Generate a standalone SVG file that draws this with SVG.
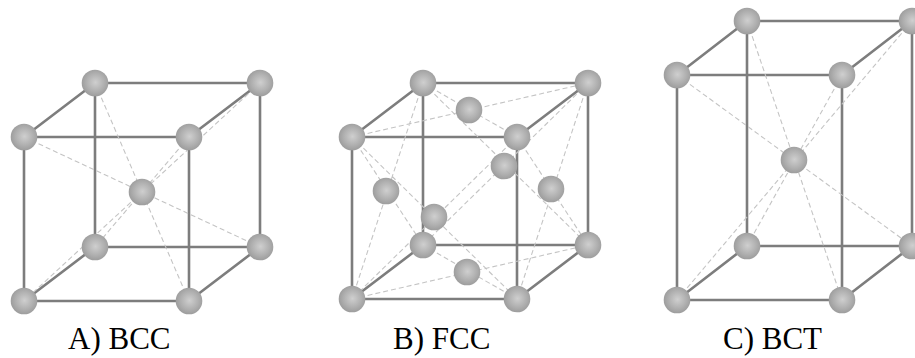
<svg xmlns="http://www.w3.org/2000/svg" width="915" height="358" viewBox="0 0 915 358">
<defs>
<radialGradient id="ball" cx="0.52" cy="0.48" r="0.55">
<stop offset="0" stop-color="#cfcfcf"/>
<stop offset="0.6" stop-color="#b0b0b0"/>
<stop offset="1" stop-color="#9a9a9a"/>
</radialGradient>
<circle id="atom" r="13.3" fill="url(#ball)"/>
</defs>
<style>
.edge{stroke:#7d7d7d;stroke-width:2.6;fill:none;stroke-linecap:round}
.diag{stroke:#c4c4c4;stroke-width:1.1;stroke-dasharray:5 3;fill:none}
.lbl{font-family:"Liberation Serif","Times New Roman",serif;font-size:31px;fill:#000}
</style>
<rect width="915" height="358" fill="#fff"/>

<g id="bcc">
<g class="connectors">
<path class="edge" d="M95,83H260V247H95ZM24,137H189V301H24ZM24,137L95,83M189,137L260,83M24,301L95,247M189,301L260,247"/>
<path class="diag" d="M24,137L260,247M95,83L189,301M189,137L95,247M260,83L24,301"/>
</g>
<g class="atoms">
<use href="#atom" x="95" y="83"/><use href="#atom" x="260" y="83"/>
<use href="#atom" x="95" y="247"/><use href="#atom" x="260" y="247"/>
<use href="#atom" x="142" y="192"/>
<use href="#atom" x="24" y="137"/><use href="#atom" x="189" y="137"/>
<use href="#atom" x="24" y="301"/><use href="#atom" x="189" y="301"/>
</g>
<text class="lbl" x="68" y="349">A) BCC</text>
</g>

<g id="fcc">
<g class="connectors">
<path class="edge" d="M423,83H588V245H423ZM352,137H517V299H352ZM352,137L423,83M517,137L588,83M352,299L423,245M517,299L588,245"/>
<path class="diag" d="M423,83L517,137M352,137L588,83M423,245L517,299M352,299L588,245M352,137L423,245M423,83L352,299M517,137L588,245M588,83L517,299M352,137L517,299M517,137L352,299M423,83L588,245M588,83L423,245"/>
</g>
<g class="atoms">
<use href="#atom" x="423" y="83"/><use href="#atom" x="588" y="83"/>
<use href="#atom" x="423" y="245"/><use href="#atom" x="588" y="245"/>
<use href="#atom" x="469" y="110"/>
<use href="#atom" x="504" y="166"/>
<use href="#atom" x="467" y="272"/>
<use href="#atom" x="386" y="191"/>
<use href="#atom" x="551" y="189"/>
<use href="#atom" x="434" y="217"/>
<use href="#atom" x="352" y="137"/><use href="#atom" x="517" y="137"/>
<use href="#atom" x="352" y="299"/><use href="#atom" x="517" y="299"/>
</g>
<text class="lbl" x="393" y="349">B) FCC</text>
</g>

<g id="bct">
<g class="connectors">
<path class="edge" d="M747,21H912V246H747ZM677,75H842V300H677ZM677,75L747,21M842,75L912,21M677,300L747,246M842,300L912,246"/>
<path class="diag" d="M677,75L912,246M747,21L842,300M842,75L747,246M912,21L677,300"/>
</g>
<g class="atoms">
<use href="#atom" x="747" y="21"/><use href="#atom" x="912" y="21"/>
<use href="#atom" x="747" y="246"/><use href="#atom" x="912" y="246"/>
<use href="#atom" x="794" y="160"/>
<use href="#atom" x="677" y="75"/><use href="#atom" x="842" y="75"/>
<use href="#atom" x="677" y="300"/><use href="#atom" x="842" y="300"/>
</g>
<text class="lbl" x="723" y="349">C) BCT</text>
</g>
</svg>
